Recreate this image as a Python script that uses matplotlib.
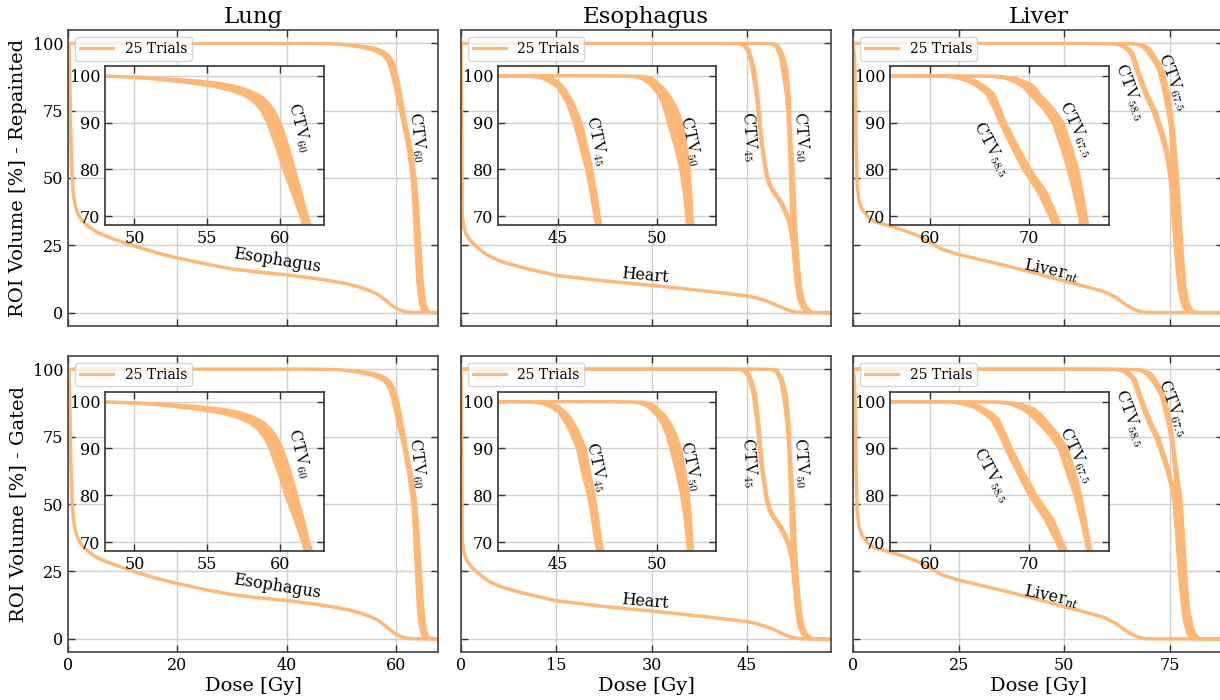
import numpy as np
import matplotlib
matplotlib.use('Agg')
import matplotlib.pyplot as plt

plt.rcParams['font.family'] = ['DejaVu Serif']
plt.rcParams['mathtext.fontset'] = 'dejavuserif'

# ---------------- DATA ----------------
organs = ['Lung', 'Esophagus', 'Liver']
row_labels = ['ROI Volume [%] - Repainted', 'ROI Volume [%] - Gated']
legend_label = '25 Trials'

xticks_main = [[0, 20, 40, 60], [0, 15, 30, 45], [0, 25, 50, 75]]
yticks_main = [0, 25, 50, 75, 100]
xticks_inset = [[50, 55, 60], [45, 50], [60, 70]]
yticks_inset = [70, 80, 90, 100]

# ---- Lung: organ at risk (esophagus) ----
lung_oar_dose = [0, 0.15, 0.3, 0.45, 0.6, 0.8, 1.0, 1.3, 1.7, 2.2, 3.0, 4.0, 5.5, 8, 12, 16, 20, 25, 30, 35, 40, 44, 48, 51, 53, 55, 56.5, 58, 59, 60, 61, 62, 63, 90]
lung_oar_vol_rep = [100, 99, 85, 66, 54, 47, 43, 39.5, 37, 35, 33.2, 31.5, 29.6, 27.5, 24.8, 22.3, 20.3, 18.1, 16.2, 15.0, 14.0, 13.0, 11.8, 10.7, 9.7, 8.3, 7.0, 4.8, 3.1, 1.7, 0.8, 0.2, 0, 0]
lung_oar_vol_gat = [100, 99, 86, 67, 55, 48, 43.5, 40, 37.5, 35.5, 33.6, 31.8, 29.9, 27.8, 25.0, 22.5, 20.5, 18.3, 16.4, 15.2, 14.2, 13.2, 12.0, 10.9, 9.9, 8.5, 7.2, 5.0, 3.3, 1.8, 0.8, 0.2, 0, 0]

# ---- Lung: CTV60 band (lower / upper dose at each volume level) ----
lung_ctv60_vol = [100, 100, 99.9, 99.7, 99.4, 99.0, 98.4, 97.7, 96.8, 95.6, 94.2, 92.5, 90, 87, 84, 80, 75, 70, 60, 50, 40, 30, 20, 12, 6, 3, 1, 0, 0]
lung_ctv60_lo_rep = [0, 44, 48, 49.5, 51, 52.3, 54, 55.5, 56.7, 57.7, 58.3, 58.75, 59.15, 59.5, 59.85, 60.25, 60.85, 61.42, 62.35, 63.0, 63.3, 63.55, 63.8, 64.0, 64.3, 64.55, 64.9, 65.2, 90]
lung_ctv60_hi_rep = [0, 44, 48.5, 50.5, 52, 54, 55.8, 57.0, 57.9, 58.7, 59.2, 59.6, 60.0, 60.35, 60.65, 61.0, 61.45, 61.88, 62.9, 63.6, 64.0, 64.3, 64.6, 64.85, 65.15, 65.4, 65.8, 66.2, 90]
lung_ctv60_lo_gat = [0, 44, 48, 49.6, 51.2, 52.5, 54.2, 55.7, 56.9, 57.85, 58.45, 58.9, 59.3, 59.65, 60.0, 60.4, 61.0, 61.57, 62.45, 63.1, 63.4, 63.65, 63.9, 64.1, 64.4, 64.65, 65.0, 65.3, 90]
lung_ctv60_hi_gat = [0, 44, 48.6, 50.6, 52.2, 54.2, 56.0, 57.2, 58.1, 58.85, 59.35, 59.75, 60.15, 60.5, 60.8, 61.15, 61.6, 61.98, 63.0, 63.7, 64.1, 64.4, 64.7, 64.95, 65.25, 65.5, 65.9, 66.3, 90]

# ---- Esophagus: heart ----
eso_oar_dose = [0, 0.1, 0.2, 0.45, 0.75, 1.2, 1.8, 3.0, 4.4, 6.5, 9.7, 15, 22.8, 30, 38.5, 44.9, 46.5, 48, 49, 50, 51, 52, 53, 54, 90]
eso_oar_vol_rep = [100, 70, 36, 31.5, 29.5, 27.5, 25.9, 23.3, 21.0, 18.8, 16.7, 13.8, 11.7, 10.1, 8.0, 6.2, 5.4, 4.3, 3.4, 2.4, 1.3, 0.5, 0.1, 0, 0]
eso_oar_vol_gat = [100, 70, 37, 32, 30, 28, 26.3, 23.7, 21.3, 19.1, 17.0, 14.1, 11.9, 10.3, 8.2, 6.4, 5.6, 4.5, 3.6, 2.6, 1.4, 0.6, 0.1, 0, 0]

# ---- Esophagus: CTV45 band ----
eso_ctv45_vol = [100, 100, 99.9, 99.5, 98.75, 97.6, 96.2, 94, 90, 85, 80, 75, 70, 65, 60, 55, 51, 48, 46, 44, 42, 39, 35, 30, 25, 20, 15, 10, 6, 3, 1, 0, 0]
eso_ctv45_lo_rep = [0, 42, 43.6, 44.2, 44.6, 45.0, 45.2, 45.5, 45.83, 46.15, 46.46, 46.68, 46.88, 47.1, 47.4, 47.7, 48.0, 48.35, 48.75, 49.3, 49.9, 50.6, 51.35, 51.85, 52.15, 52.4, 52.65, 52.9, 53.2, 53.55, 54.0, 54.4, 90]
eso_ctv45_hi_rep = [0, 42, 44.2, 44.7, 45.0, 45.3, 45.5, 45.8, 46.19, 46.48, 46.73, 46.93, 47.1, 47.32, 47.6, 47.9, 48.2, 48.6, 49.0, 49.6, 50.2, 50.9, 51.65, 52.15, 52.45, 52.7, 52.95, 53.2, 53.5, 53.9, 54.4, 54.9, 90]
eso_ctv45_lo_gat = [0, 42, 43.7, 44.3, 44.7, 45.1, 45.3, 45.6, 46.0, 46.25, 46.55, 46.75, 46.92, 47.15, 47.45, 47.75, 48.05, 48.4, 48.8, 49.35, 49.95, 50.65, 51.4, 51.9, 52.2, 52.45, 52.7, 52.95, 53.25, 53.6, 54.05, 54.45, 90]
eso_ctv45_hi_gat = [0, 42, 44.3, 44.8, 45.1, 45.45, 45.7, 46.0, 46.4, 46.62, 46.85, 47.03, 47.2, 47.42, 47.7, 48.0, 48.3, 48.7, 49.1, 49.7, 50.3, 51.0, 51.7, 52.2, 52.5, 52.75, 53.0, 53.25, 53.55, 53.95, 54.45, 54.95, 90]

# ---- Esophagus: CTV50 band ----
eso_ctv50_vol = [100, 100, 99.9, 99.6, 99.0, 98.4, 97.5, 96.5, 95, 93, 90, 85, 80, 75, 70, 62, 55, 47, 40, 30, 20, 10, 5, 2, 0, 0]
eso_ctv50_lo_rep = [0, 47, 48.6, 49.1, 49.4, 49.6, 49.8, 50.0, 50.2, 50.38, 50.58, 50.92, 51.2, 51.38, 51.5, 51.65, 51.75, 51.85, 51.95, 52.1, 52.35, 52.75, 53.1, 53.6, 54.4, 90]
eso_ctv50_hi_rep = [0, 47, 49.3, 49.7, 49.9, 50.05, 50.3, 50.5, 50.75, 51.0, 51.27, 51.48, 51.64, 51.72, 51.78, 51.98, 52.2, 52.38, 52.5, 52.7, 53.0, 53.4, 53.8, 54.3, 55.3, 90]
eso_ctv50_lo_gat = [0, 47, 48.7, 49.2, 49.5, 49.7, 49.9, 50.1, 50.3, 50.5, 50.7, 51.0, 51.25, 51.42, 51.55, 51.68, 51.78, 51.88, 51.98, 52.13, 52.38, 52.78, 53.13, 53.63, 54.45, 90]
eso_ctv50_hi_gat = [0, 47, 49.3, 49.7, 49.9, 50.05, 50.3, 50.5, 50.72, 50.95, 51.2, 51.43, 51.6, 51.7, 51.78, 51.98, 52.2, 52.38, 52.5, 52.7, 53.0, 53.4, 53.8, 54.3, 55.3, 90]

# ---- Liver: liver minus target ----
liver_oar_dose = [0, 0.3, 0.6, 0.9, 1.3, 2.0, 3.5, 5, 8, 12, 15, 18.3, 21, 25, 30, 36.5, 43, 50, 54, 57, 59, 60.5, 62, 63.2, 64.5, 66, 67.5, 69, 70, 95]
liver_oar_vol_rep = [100, 95, 65, 48, 42, 38.5, 35.5, 33.8, 32.5, 30.5, 28.8, 26.0, 23.5, 21.6, 19.7, 17.3, 14.7, 11.7, 10.1, 8.8, 8.0, 7.0, 5.8, 4.5, 3.0, 1.6, 0.6, 0.1, 0, 0]
liver_oar_vol_gat = [100, 95, 65, 48, 42, 38.5, 35.5, 33.8, 32.5, 30.6, 28.9, 26.2, 23.7, 21.8, 19.9, 17.5, 14.9, 11.9, 10.3, 9.0, 8.2, 7.1, 5.9, 4.6, 3.1, 1.7, 0.6, 0.1, 0, 0]

# ---- Liver: CTV58.5 band ----
liv_ctv58_vol = [100, 100, 99.9, 99.5, 98.8, 97.5, 96.2, 93, 90, 85, 80, 74.8, 70, 66, 62, 58, 55, 50, 45, 38, 30, 22, 15, 8, 5, 2, 0, 0]
liv_ctv58_lo_rep = [0, 55, 61.5, 62.8, 63.9, 64.9, 65.7, 66.45, 67.05, 68.2, 69.4, 71.0, 72.05, 72.9, 73.6, 74.2, 74.6, 75.0, 75.3, 75.65, 76.0, 76.4, 76.8, 77.3, 77.7, 78.3, 79.0, 95]
liv_ctv58_hi_rep = [0, 55, 62.5, 63.7, 64.7, 65.7, 66.4, 67.05, 67.6, 68.8, 70.1, 71.8, 72.75, 73.55, 74.2, 74.8, 75.1, 75.5, 75.9, 76.25, 76.6, 77.0, 77.4, 77.9, 78.4, 79.0, 80.0, 95]
liv_ctv58_lo_gat = [0, 55, 62.0, 63.3, 64.4, 65.4, 66.2, 67.0, 67.6, 68.8, 70.0, 71.6, 72.75, 73.6, 74.4, 75.1, 75.5, 76.0, 76.3, 76.65, 77.0, 77.4, 77.8, 78.3, 78.7, 79.3, 80.0, 95]
liv_ctv58_hi_gat = [0, 55, 63.0, 64.2, 65.2, 66.2, 66.9, 67.6, 68.2, 69.4, 70.7, 72.4, 73.35, 74.2, 74.9, 75.6, 76.0, 76.5, 76.9, 77.25, 77.6, 78.0, 78.4, 78.9, 79.4, 80.0, 81.0, 95]

# ---- Liver: CTV67.5 band ----
liv_ctv67_vol = [100, 100, 99.9, 99.5, 98.4, 97.4, 96.2, 93, 90, 85, 80, 75, 70, 65, 60, 50, 40, 30, 20, 10, 4, 1, 0, 0]
liv_ctv67_lo_rep = [0, 60, 66.0, 67.6, 68.8, 69.5, 70.0, 71.4, 72.4, 73.2, 73.9, 74.5, 75.05, 75.3, 75.5, 75.9, 76.2, 76.5, 76.9, 77.4, 78.0, 78.8, 79.5, 95]
liv_ctv67_hi_rep = [0, 60, 67.0, 68.6, 70.0, 70.6, 71.0, 72.4, 73.4, 74.2, 74.9, 75.35, 75.75, 76.1, 76.4, 76.9, 77.3, 77.7, 78.1, 78.6, 79.3, 80.2, 81.0, 95]
liv_ctv67_lo_gat = [0, 60, 66.4, 68.1, 69.3, 70.0, 70.6, 72.0, 73.0, 73.8, 74.6, 75.2, 75.75, 76.0, 76.3, 76.8, 77.2, 77.5, 77.9, 78.4, 79.0, 79.8, 80.5, 95]
liv_ctv67_hi_gat = [0, 60, 67.4, 69.1, 70.5, 71.1, 71.6, 72.9, 73.8, 74.6, 75.2, 75.65, 76.05, 76.5, 77.0, 77.8, 78.2, 78.6, 79.0, 79.6, 80.4, 81.4, 82.4, 95]

# ---- Labels ----
ctv_labels = [[r'$\mathrm{CTV}_{60}$'],
              [r'$\mathrm{CTV}_{45}$', r'$\mathrm{CTV}_{50}$'],
              [r'$\mathrm{CTV}_{58.5}$', r'$\mathrm{CTV}_{67.5}$']]
oar_labels = ['Esophagus', 'Heart', r'Liver$_{nt}$']

# ---------------- STYLE / LAYOUT ----------------
COLOR = '#FDB878'
LW = 2.2
xlims = [(0, 67.8), (0, 58.2), (0, 87.7)]
inset_xlims = [(48, 63), (42, 53), (56, 78)]
col_left_px = [68.3, 461, 853.3]
W, H = 1220, 700

# label positions (dose, volume, rotation)
main_ctv_pos = [[(64.0, 65.3, -83)], [(45.35, 65.3, -86), (53.5, 65.3, -86)],
                [(65.7, 82.0, -70), (75.9, 85.6, -70)]]
inset_ctv_pos = [[(61.36, 89.0, -76)], [(46.98, 86.2, -78), (51.68, 86.2, -78)],
                 [(66.2, 84.3, -62), (74.7, 88.6, -65)]]
oar_pos = [(38.3, 19.4, -9), (29.0, 13.8, -5), (46.8, 15.7, -12)]

rows = [
    dict(oar=[(lung_oar_dose, lung_oar_vol_rep), (eso_oar_dose, eso_oar_vol_rep), (liver_oar_dose, liver_oar_vol_rep)],
         ctv=[[(lung_ctv60_vol, lung_ctv60_lo_rep, lung_ctv60_hi_rep)],
              [(eso_ctv45_vol, eso_ctv45_lo_rep, eso_ctv45_hi_rep), (eso_ctv50_vol, eso_ctv50_lo_rep, eso_ctv50_hi_rep)],
              [(liv_ctv58_vol, liv_ctv58_lo_rep, liv_ctv58_hi_rep), (liv_ctv67_vol, liv_ctv67_lo_rep, liv_ctv67_hi_rep)]]),
    dict(oar=[(lung_oar_dose, lung_oar_vol_gat), (eso_oar_dose, eso_oar_vol_gat), (liver_oar_dose, liver_oar_vol_gat)],
         ctv=[[(lung_ctv60_vol, lung_ctv60_lo_gat, lung_ctv60_hi_gat)],
              [(eso_ctv45_vol, eso_ctv45_lo_gat, eso_ctv45_hi_gat), (eso_ctv50_vol, eso_ctv50_lo_gat, eso_ctv50_hi_gat)],
              [(liv_ctv58_vol, liv_ctv58_lo_gat, liv_ctv58_hi_gat), (liv_ctv67_vol, liv_ctv67_lo_gat, liv_ctv67_hi_gat)]]),
]
row_px = [(30, 326), (355.7, 652.3)]


def draw_band(ax, vol, lo, hi, label='_nolegend_'):
    vol = np.asarray(vol, float)
    lo = np.asarray(lo, float)
    hi = np.asarray(hi, float)
    ax.fill(np.concatenate([lo, hi[::-1]]), np.concatenate([vol, vol[::-1]]),
            color=COLOR, lw=0, zorder=2)
    ax.plot(lo, vol, color=COLOR, lw=LW, zorder=2, label=label,
            solid_joinstyle='round')
    ax.plot(hi, vol, color=COLOR, lw=LW, zorder=2, solid_joinstyle='round')


def style_axes(ax, spine_color='#444444'):
    for s in ax.spines.values():
        s.set_color(spine_color)
        s.set_linewidth(1.2)
    ax.grid(True, color='#d0d0d0', lw=1.0)
    ax.set_axisbelow(True)
    ax.tick_params(direction='in', top=True, right=True, length=5, width=1,
                   color='#333333', labelsize=11.5)


fig = plt.figure(figsize=(W / 100, H / 100), dpi=100)

for r, row in enumerate(rows):
    top_px, bot_px = row_px[r]
    for c in range(3):
        ax = fig.add_axes([col_left_px[c] / W, 1 - bot_px / H, 370 / W, (bot_px - top_px) / H])
        style_axes(ax)
        ax.set_xlim(*xlims[c])
        ax.set_ylim(-5, 105)
        ax.set_xticks(xticks_main[c])
        ax.set_yticks(yticks_main)
        if r == 0:
            ax.set_title(organs[c], fontsize=16.5, pad=5)
            ax.tick_params(labelbottom=False)
        else:
            ax.set_xlabel('Dose [Gy]', fontsize=14, labelpad=2)
        if c == 0:
            ax.set_ylabel(row_labels[r], fontsize=14, labelpad=4)
        else:
            ax.tick_params(labelleft=False)

        # organ at risk curve
        d, v = row['oar'][c]
        ax.plot(d, v, color=COLOR, lw=LW + 0.3, zorder=2, solid_joinstyle='round')
        ox, oy, orot = oar_pos[c]
        ax.text(ox, oy, oar_labels[c], fontsize=11.5, rotation=orot, ha='center', va='center',
                rotation_mode='anchor', math_fontfamily='dejavuserif')

        # target bands
        for k, (vol, lo, hi) in enumerate(row['ctv'][c]):
            draw_band(ax, vol, lo, hi, label=legend_label if k == 0 else '_nolegend_')
        for k, (tx, ty, trot) in enumerate(main_ctv_pos[c]):
            ax.text(tx, ty, ctv_labels[c][k], fontsize=12, rotation=trot, ha='center', va='center',
                    rotation_mode='anchor', math_fontfamily='cm')

        ax.legend(loc='upper left', fontsize=10, frameon=True, fancybox=True,
                  framealpha=0.8, edgecolor='#cccccc', handlelength=2.4,
                  borderpad=0.35, handletextpad=0.8)

        # inset
        ins = ax.inset_axes([0.1, 0.34, 0.59, 0.537])
        style_axes(ins, spine_color='#333333')
        ins.set_facecolor('white')
        ins.set_xlim(*inset_xlims[c])
        ins.set_ylim(68, 102)
        ins.set_xticks(xticks_inset[c])
        ins.set_yticks(yticks_inset)
        ins.plot(d, v, color=COLOR, lw=LW + 0.3, zorder=2)
        for k, (vol, lo, hi) in enumerate(row['ctv'][c]):
            draw_band(ins, vol, lo, hi)
        for k, (tx, ty, trot) in enumerate(inset_ctv_pos[c]):
            ins.text(tx, ty, ctv_labels[c][k], fontsize=12, rotation=trot, ha='center', va='center',
                     rotation_mode='anchor', math_fontfamily='cm')

fig.savefig('out.png', dpi=100)
